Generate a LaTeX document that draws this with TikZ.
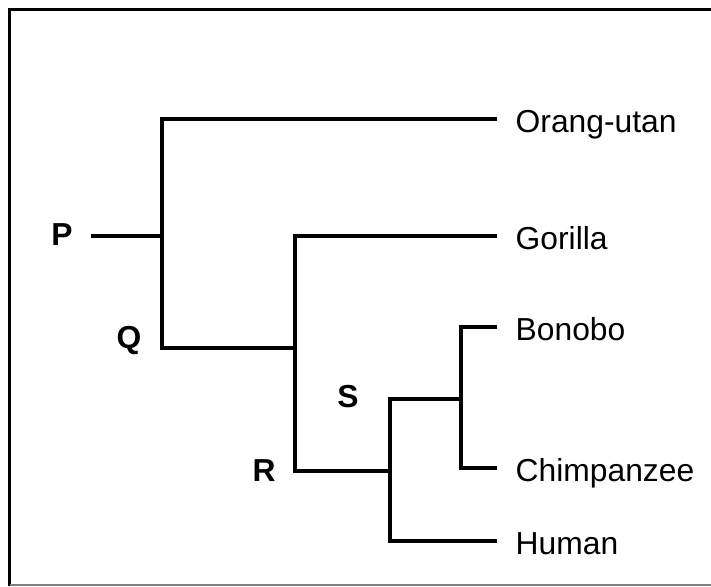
\documentclass[tikz,border=0pt]{standalone}
\usepackage{fontspec}
\setmainfont{Liberation Sans}
\usetikzlibrary{positioning}
\tikzset{
	branch/.style={line width=3.2pt,line cap=rect},
	leaf/.style={anchor=west,inner xsep=20.5pt,inner ysep=0pt,text height=26pt,text depth=0pt,font=\fontsize{31.8}{38}\selectfont},
	tag/.style={inner sep=0pt,font=\fontsize{31.8}{38}\selectfont\bfseries}
}
\newcommand{\leaf}[3]{
	\node [leaf] (#1) at (495,#2) {#3}
}

\begin{document}
\begin{tikzpicture}[x=1pt,y=-1pt]
	\useasboundingbox (0,0) rectangle (711,586);
	% Frame
	\draw [line width=3.2pt] (711,9.5) -- (9.5,9.5) -- (9.5,586);
	\draw [gray,line width=1.2pt] (9.5,585) -- (711,585);

	% Leaves
	\leaf {orang}{119}{Orang-utan};
	\leaf {gorilla}{236}{Gorilla};
	\leaf {bonobo}{327}{Bonobo};
	\leaf {chimp}{468}{Chimpanzee};
	\leaf {human}{541}{Human};

	% Junctions
	\coordinate (stub) at (93,236);
	\coordinate (a) at (162,236);
	\coordinate (b) at (295,348);
	\coordinate (c) at (390,471);
	\coordinate (d) at (461,399);

	% Labels
	\node [tag] (P) at (62,235) {P};
	\node [tag] (Q) at (129,341) {Q};
	\node [tag] (R) at (264,471) {R};
	\node [tag] (S) at (348,397) {S};

	% Branches
	\draw [branch] (stub) -- (a);
	\draw [branch] (orang.west) -| (a) |- (b);
	\draw [branch] (gorilla.west) -| (b) |- (c);
	\draw [branch] (d) -| (c) |- (human.west);
	\draw [branch] (bonobo.west) -| (d) |- (chimp.west);
\end{tikzpicture}
\end{document}
